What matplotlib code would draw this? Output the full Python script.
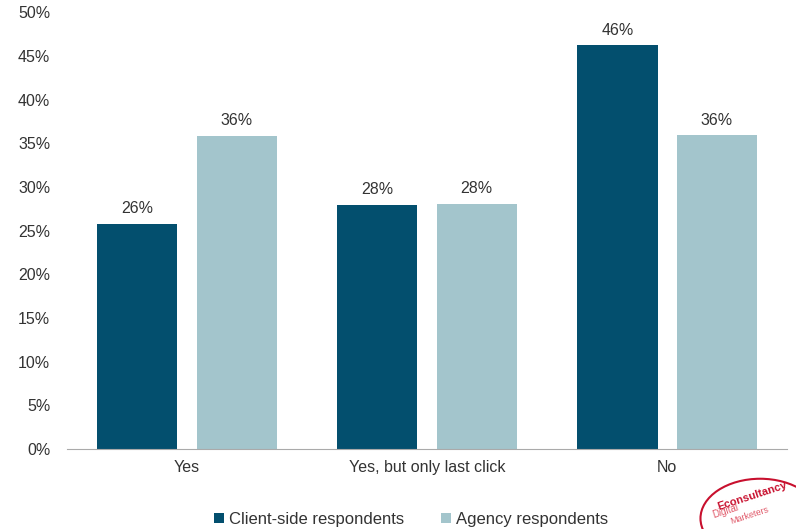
import matplotlib.pyplot as plt
import numpy as np
from matplotlib.patches import Circle

categories = ['Yes', 'Yes, but only last click', 'No']
client = [25.8, 27.9, 46.2]
agency = [35.8, 28.1, 35.9]
client_labels = ['26%', '28%', '46%']
agency_labels = ['36%', '28%', '36%']
yticks = [0, 5, 10, 15, 20, 25, 30, 35, 40, 45, 50]

dark = '#034f6e'
light = '#a3c5cc'
txt = '#333333'

plt.rcParams['font.family'] = ['Liberation Sans', 'DejaVu Sans']

fig = plt.figure(figsize=(7.96, 5.29), dpi=100)
ax = fig.add_axes([0.084, 0.151, 0.905, 0.826])

x = np.arange(len(categories))
w = 0.334
b1 = ax.bar(x - 0.207, client, w, color=dark, label='Client-side respondents')
b2 = ax.bar(x + 0.207, agency, w, color=light, label='Agency respondents')

for bar, lab in zip(b1, client_labels):
    ax.text(bar.get_x() + bar.get_width() / 2, bar.get_height() + 0.9, lab,
            ha='center', va='bottom', fontsize=11.5, color=txt)
for bar, lab in zip(b2, agency_labels):
    ax.text(bar.get_x() + bar.get_width() / 2, bar.get_height() + 0.9, lab,
            ha='center', va='bottom', fontsize=11.5, color=txt)

ax.set_xlim(-0.5, 2.5)
ax.set_ylim(0, 50)
ax.set_yticks(yticks)
ax.set_yticklabels([f'{t}%' for t in yticks], fontsize=11.5, color=txt)
ax.set_xticks(x)
ax.set_xticklabels(categories, fontsize=11.5, color=txt)
ax.tick_params(length=0, pad=8)
ax.tick_params(axis='y', pad=12)
for s in ['top', 'right', 'left']:
    ax.spines[s].set_visible(False)
ax.spines['bottom'].set_color('#aaaaaa')

fig.legend(loc='lower center', bbox_to_anchor=(0.516, -0.024), ncol=2, frameon=False,
           fontsize=12, handlelength=0.6, handleheight=0.6, handletextpad=0.3,
           columnspacing=2.2, labelcolor=txt)

# logo in the corner
logo = Circle((0.955, 0.02), 0.075, transform=fig.transFigure, fill=False,
              edgecolor='#c8102e', linewidth=1.5, clip_on=False)
fig.add_artist(logo)
fig.text(0.945, 0.062, 'Econsultancy', color='#c8102e', fontsize=8, fontweight='bold',
         rotation=18, ha='center', va='center')
fig.text(0.912, 0.034, 'Digital', color='#e05a6a', fontsize=7, rotation=18, ha='center', va='center')
fig.text(0.942, 0.026, 'Marketers', color='#e05a6a', fontsize=6.5, rotation=18, ha='center', va='center')

fig.savefig('out.png', dpi=100)
